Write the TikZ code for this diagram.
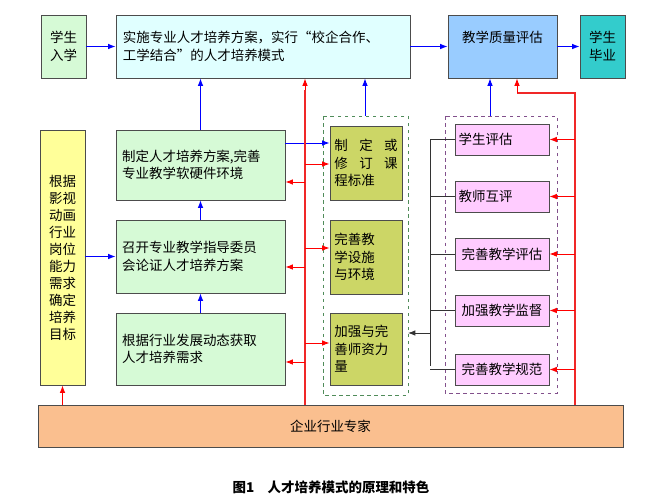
\documentclass[tikz,border=0pt]{standalone}
\usepackage{fontspec}
\setmainfont{Noto Sans CJK SC}
\XeTeXlinebreaklocale "zh"
\XeTeXlinebreakskip=0pt plus 1pt
\usetikzlibrary{positioning, calc, arrows.meta}
\definecolor{boxgreen}{RGB}{214,250,214}
\definecolor{boxcyan}{RGB}{224,255,255}
\definecolor{boxblue}{RGB}{153,204,255}
\definecolor{boxteal}{RGB}{51,204,204}
\definecolor{boxyellow}{RGB}{255,255,153}
\definecolor{boxolive}{RGB}{204,214,102}
\definecolor{boxpink}{RGB}{255,204,255}
\definecolor{boxorange}{RGB}{250,191,143}
\definecolor{linered}{RGB}{240,40,40}
\definecolor{dashgreen}{RGB}{80,140,90}
\definecolor{dashpurple}{RGB}{130,80,140}

\begin{document}
\begin{tikzpicture}[x=0.03cm, y=-0.03cm, font=\fontsize{11.5}{15}\selectfont,
    box/.style={draw=black!70, thick, rectangle, inner sep=2pt},
    blue arrow/.style={-{Latex[length=2.2mm]}, blue, thick},
    red arrow/.style={-{Latex[length=2.2mm]}, red, thick},
    red line/.style={draw=linered, line width=1.1pt},
    black arrow/.style={-{Latex[length=2.2mm]}, black!80, thick}]
        \useasboundingbox (0,0) rectangle (663,500);
        % Top row
        \node[box, fill=boxgreen, minimum width=1.35cm, minimum height=1.89cm, align=left] (enter) at (63.5,46.5) {学生\\入学};
        \node[box, fill=boxcyan, minimum width=8.82cm, minimum height=1.89cm, align=left, text width=8.4cm] (mode) at (263,46.5) {实施专业人才培养方案，实行“校企合作、\\工学结合”的人才培养模式};
        \node[box, fill=boxblue, minimum width=3.27cm, minimum height=1.89cm, text depth=0.6cm] (quality) at (502.5,46.5) {教学质量评估};
        \node[box, fill=boxteal, minimum width=1.35cm, minimum height=1.89cm, align=left] (graduate) at (602.5,46.5) {学生\\毕业};
        % Left column
        \node[box, fill=boxyellow, minimum width=1.35cm, minimum height=7.65cm, align=left, font=\fontsize{11.5}{14.5}\selectfont] (target) at (62.5,257.5) {根据\\影视\\动画\\行业\\岗位\\能力\\需求\\确定\\培养\\目标};
        \node[box, fill=boxgreen, minimum width=5.07cm, minimum height=2.1cm, align=left, text width=4.7cm] (plan) at (200.5,165) {制定人才培养方案,完善\\专业教学软硬件环境};
        \node[box, fill=boxgreen, minimum width=5.07cm, minimum height=2.19cm, align=left, text width=4.7cm] (committee) at (200.5,256.5) {召开专业教学指导委员\\会论证人才培养方案};
        \node[box, fill=boxgreen, minimum width=5.07cm, minimum height=2.16cm, align=left, text width=4.7cm] (demand) at (200.5,349) {根据行业发展动态获取\\人才培养需求};
        % Middle column
        \draw[dashgreen, thick, dashed] (323,116) rectangle (408,395);
        \coordinate (greentop) at (365,116);
        \coordinate (greenright) at (408,333);
        \node[box, fill=boxolive, minimum width=2.16cm, minimum height=2.22cm, align=left, text width=1.9cm] (standard) at (366,163) {制\hfill 定\hfill 或\\修\hfill 订\hfill 课\\程标准};
        \node[box, fill=boxolive, minimum width=2.16cm, minimum height=2.22cm, align=left, text width=1.9cm] (facility) at (366,257) {完善教\\学设施\\与环境};
        \node[box, fill=boxolive, minimum width=2.16cm, minimum height=2.16cm, align=left, text width=1.9cm] (teachers) at (366,349) {加强与完\\善师资力\\量};
        % Right column
        \draw[dashpurple, thick, dashed] (445,116) rectangle (557,393);
        \coordinate (purpletop) at (490,116);
        \node[box, fill=boxpink, minimum width=2.82cm, minimum height=0.93cm, align=left, text width=2.6cm] (e1) at (502,139.5) {学生评估};
        \node[box, fill=boxpink, minimum width=2.82cm, minimum height=0.93cm, align=left, text width=2.6cm] (e2) at (502,196.5) {教师互评};
        \node[box, fill=boxpink, minimum width=2.82cm, minimum height=0.96cm] (e3) at (502,254) {完善教学评估};
        \node[box, fill=boxpink, minimum width=2.82cm, minimum height=0.93cm] (e4) at (502,310.5) {加强教学监督};
        \node[box, fill=boxpink, minimum width=2.82cm, minimum height=0.93cm] (e5) at (502,369.5) {完善教学规范};
        % Bottom
        \node[box, fill=boxorange, minimum width=17.55cm, minimum height=1.26cm] (expert) at (330.5,426) {企业行业专家};
        \node (caption) at (331,487) {\bfseries 图1\quad 人才培养模式的原理和特色};

        % Blue arrows
        \draw[blue arrow] (enter) -- (mode);
        \draw[blue arrow] (mode) -- (quality);
        \draw[blue arrow] (quality) -- (graduate);
        \draw[blue arrow] (plan.north) -- (plan.north |- mode.south);
        \draw[blue arrow] (committee.north) -- (plan.south);
        \draw[blue arrow] (demand.north) -- (committee.south);
        \draw[blue arrow] (target.east |- committee) -- (committee.west);
        \draw[blue arrow] ($(plan.east)+(0,-22)$) -- (standard.west |- {$(plan.east)+(0,-22)$});
        \draw[blue arrow] (greentop) -- (greentop |- mode.south);
        \draw[blue arrow] (purpletop) -- (purpletop |- quality.south);
        % Red lines
        \coordinate (redleft) at (305,405);
        \coordinate (redright) at (575,405);
        \draw[red line] (redleft) -- (305,90);
        \draw[red arrow] (305,90) -- (mode.south -| 305,0);
        \draw[red arrow] (expert.north -| target) -- (target.south);
        \foreach \y/\dest in {164/standard, 248/facility, 343/teachers}
            \draw[red arrow] (305,\y) -- (\dest.west |- 0,\y);
        \foreach \y/\dest in {182/plan, 267/committee, 362/demand}
            \draw[red arrow] (305,\y) -- (\dest.east |- 0,\y);
        \draw[red line] (redright) -- (575,93) -- (517,93);
        \draw[red arrow] (517,93) -- (quality.south -| 517,0);
        \foreach \dest in {e1, e2, e3, e4, e5}
            \draw[red arrow] (redright |- \dest) -- (\dest.east);
        % Black lines
        \draw[black!80, thick] (430,140) -- (430,366);
        \foreach \dest in {e1, e2, e3, e4, e5}
            \draw[black!80, thick] (430,0 |- \dest) -- (\dest.west);
        \draw[black arrow] (430,333) -- (greenright);
    \end{tikzpicture}
\end{document}
